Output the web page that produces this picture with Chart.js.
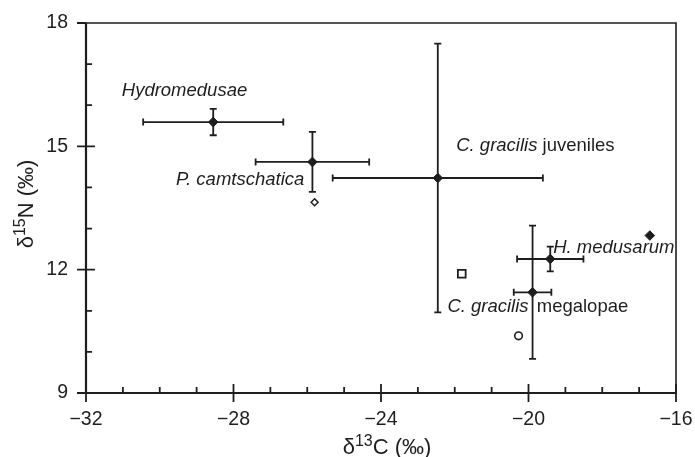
<!DOCTYPE html>
<html>
<head>
<meta charset="utf-8">
<script src="https://cdn.jsdelivr.net/npm/chart.js@4"></script>
<style>
  body { margin: 0; background: #fff; }
  #wrap { width: 695px; height: 457px; }
</style>
</head>
<body>
<div id="wrap"><canvas id="scatter" width="695" height="457"></canvas></div>
<script>
// group means (d13C, d15N) with +/- SD
var groups = ['Hydromedusae', 'P. camtschatica', 'C. gracilis juveniles', 'H. medusarum', 'C. gracilis megalopae'];
var meanC = [-28.55, -25.86, -22.46, -19.41, -19.89];
var meanN = [15.59, 14.62, 14.23, 12.26, 11.45];
var sdC = [1.9, 1.54, 2.85, 0.9, 0.51];
var sdN = [0.32, 0.73, 3.27, 0.3, 1.62];

// single samples
var filledDiamond = [{ x: -16.71, y: 12.83 }];
var openDiamond = [{ x: -25.8, y: 13.64 }];
var openSquare = [{ x: -21.81, y: 11.9 }];
var openCircle = [{ x: -20.27, y: 10.39 }];

// label anchors (data units) and how they are drawn
var labelX = [-31.03, -26.08, -21.96, -19.33, -22.2];
var labelY = [16.34, 14.19, 15.0, 12.53, 11.1];
var labelAlign = ['left', 'right', 'left', 'left', 'left'];
var labelGap = [0, 0, 0, 0, 3];

var INK = '#1e1e1e';
var FONT = '"Liberation Sans", Arial, Helvetica, sans-serif';

var meanPoints = meanC.map(function(c, i) {
    return { x: c, y: meanN[i] };
});

function minus(v) {
    return v < 0 ? '\u2212' + Math.abs(v) : String(v);
}

var errorBars = {
    id: 'errorBars',
    beforeDatasetsDraw: function(chart) {
        var ctx = chart.ctx, xs = chart.scales.x, ys = chart.scales.y;
        ctx.save();
        ctx.strokeStyle = INK;
        ctx.lineWidth = 1.8;
        meanC.forEach(function(c, i) {
            var px = xs.getPixelForValue(c), py = ys.getPixelForValue(meanN[i]);
            var x0 = xs.getPixelForValue(c - sdC[i]), x1 = xs.getPixelForValue(c + sdC[i]);
            var y0 = ys.getPixelForValue(meanN[i] + sdN[i]), y1 = ys.getPixelForValue(meanN[i] - sdN[i]);
            ctx.beginPath();
            ctx.moveTo(x0, py); ctx.lineTo(x1, py);
            ctx.moveTo(x0, py - 3.5); ctx.lineTo(x0, py + 3.5);
            ctx.moveTo(x1, py - 3.5); ctx.lineTo(x1, py + 3.5);
            ctx.moveTo(px, y0); ctx.lineTo(px, y1);
            ctx.moveTo(px - 3.5, y0); ctx.lineTo(px + 3.5, y0);
            ctx.moveTo(px - 3.5, y1); ctx.lineTo(px + 3.5, y1);
            ctx.stroke();
        });
        ctx.restore();
    }
};

var frame = {
    id: 'frame',
    afterDraw: function(chart) {
        var ctx = chart.ctx, a = chart.chartArea, xs = chart.scales.x, ys = chart.scales.y;
        ctx.save();
        ctx.strokeStyle = INK;
        // top and right border
        ctx.lineWidth = 1.6;
        ctx.beginPath();
        ctx.moveTo(a.left, a.top); ctx.lineTo(a.right, a.top); ctx.lineTo(a.right, a.bottom);
        ctx.stroke();
        // axes
        ctx.lineWidth = 2.2;
        ctx.beginPath();
        ctx.moveTo(a.left, a.top); ctx.lineTo(a.left, a.bottom); ctx.lineTo(a.right, a.bottom);
        ctx.stroke();
        // ticks
        ctx.lineWidth = 1.8;
        ctx.beginPath();
        for (var v = -32; v <= -16; v++) {
            var px = xs.getPixelForValue(v);
            if (v % 4 === 0) { ctx.moveTo(px, a.bottom - 9); ctx.lineTo(px, a.bottom + 9); }
            else { ctx.moveTo(px, a.bottom - 6); ctx.lineTo(px, a.bottom); }
        }
        for (var w = 9; w <= 18; w++) {
            var py = ys.getPixelForValue(w);
            if (w % 3 === 0) { if (w < 18) { ctx.moveTo(a.left - 9, py); ctx.lineTo(a.left + 9, py); } else { ctx.moveTo(a.left - 9, py); ctx.lineTo(a.left, py); } }
            else { ctx.moveTo(a.left, py); ctx.lineTo(a.left + 6, py); }
        }
        ctx.stroke();

        // axis titles with superscripts
        ctx.fillStyle = INK;
        ctx.textBaseline = 'alphabetic';
        var big = '22px ' + FONT, small = '16px ' + FONT;
        function titleParts(pre, sup, post) {
            ctx.font = big; var w1 = ctx.measureText(pre).width, w3 = ctx.measureText(post).width;
            ctx.font = small; var w2 = ctx.measureText(sup).width;
            return [w1, w2, w3];
        }
        function drawTitle(pre, sup, post, cx, base) {
            var w = titleParts(pre, sup, post), start = cx - (w[0] + w[1] + w[2]) / 2;
            ctx.textAlign = 'left';
            ctx.font = big; ctx.fillText(pre, start, base);
            ctx.font = small; ctx.fillText(sup, start + w[0], base - 8);
            ctx.font = big; ctx.fillText(post, start + w[0] + w[1], base);
        }
        drawTitle('\u03b4', '13', 'C (\u2030)', 387, 454);
        ctx.save();
        ctx.translate(33, 204);
        ctx.rotate(-Math.PI / 2);
        drawTitle('\u03b4', '15', 'N (\u2030)', 0, 0);
        ctx.restore();

        // group labels: species names italic, stage names upright
        ctx.textBaseline = 'middle';
        var ital = 'italic 18.5px ' + FONT, reg = '18.5px ' + FONT;
        groups.forEach(function(g, i) {
            var px = xs.getPixelForValue(labelX[i]), py = ys.getPixelForValue(labelY[i]);
            var m = g.match(/^(C\. gracilis)( .*)$/);
            var parts = m ? [[m[1], ital], [m[2], reg]] : [[g, ital]];
            var total = 0;
            parts.forEach(function(p) { ctx.font = p[1]; total += ctx.measureText(p[0]).width; });
            var x = labelAlign[i] === 'right' ? px - total : px;
            ctx.textAlign = 'left';
            parts.forEach(function(p, k) {
                ctx.font = p[1]; ctx.fillText(p[0], x, py);
                x += ctx.measureText(p[0]).width + (k === 0 ? labelGap[i] : 0);
            });
        });
        ctx.restore();
    }
};

function noPad(s) {
    s.paddingLeft = 0; s.paddingRight = 0; s.paddingTop = 0; s.paddingBottom = 0;
}

new Chart(document.getElementById('scatter').getContext('2d'), {
    type: 'scatter',
    data: {
        datasets: [
            { label: 'Means', data: meanPoints, pointStyle: 'rectRot', pointRadius: 4.8, backgroundColor: INK, borderColor: INK, borderWidth: 1 },
            { label: 'Filled diamond', data: filledDiamond, pointStyle: 'rectRot', pointRadius: 4.8, backgroundColor: INK, borderColor: INK, borderWidth: 1 },
            { label: 'Open diamond', data: openDiamond, pointStyle: 'rectRot', pointRadius: 3.5, backgroundColor: '#fff', borderColor: INK, borderWidth: 1.5 },
            { label: 'Open square', data: openSquare, pointStyle: 'rect', pointRadius: 5.5, backgroundColor: '#fff', borderColor: INK, borderWidth: 1.8 },
            { label: 'Open circle', data: openCircle, pointStyle: 'circle', pointRadius: 3.8, backgroundColor: '#fff', borderColor: INK, borderWidth: 1.6 }
        ]
    },
    options: {
        responsive: false,
        animation: false,
        layout: { padding: { top: 23, right: 19, left: 0, bottom: 0 } },
        plugins: { legend: { display: false }, tooltip: { enabled: false } },
        scales: {
            x: {
                type: 'linear', min: -32, max: -16,
                grid: { display: false, drawTicks: false },
                border: { display: false },
                afterFit: function(s) { s.height = 64; noPad(s); },
                ticks: {
                    stepSize: 1, autoSkip: false, maxRotation: 0, padding: 15,
                    color: INK, font: { family: FONT, size: 19.5 },
                    callback: function(v) { return v % 4 === 0 ? minus(v) : ''; }
                }
            },
            y: {
                type: 'linear', min: 9, max: 18,
                grid: { display: false, drawTicks: false },
                border: { display: false },
                afterFit: function(s) { s.width = 86; noPad(s); },
                ticks: {
                    stepSize: 1, autoSkip: false, padding: 18,
                    color: INK, font: { family: FONT, size: 19.5 },
                    callback: function(v) { return v % 3 === 0 ? String(v) : ''; }
                }
            }
        }
    },
    plugins: [errorBars, frame]
});
</script>
</body>
</html>
